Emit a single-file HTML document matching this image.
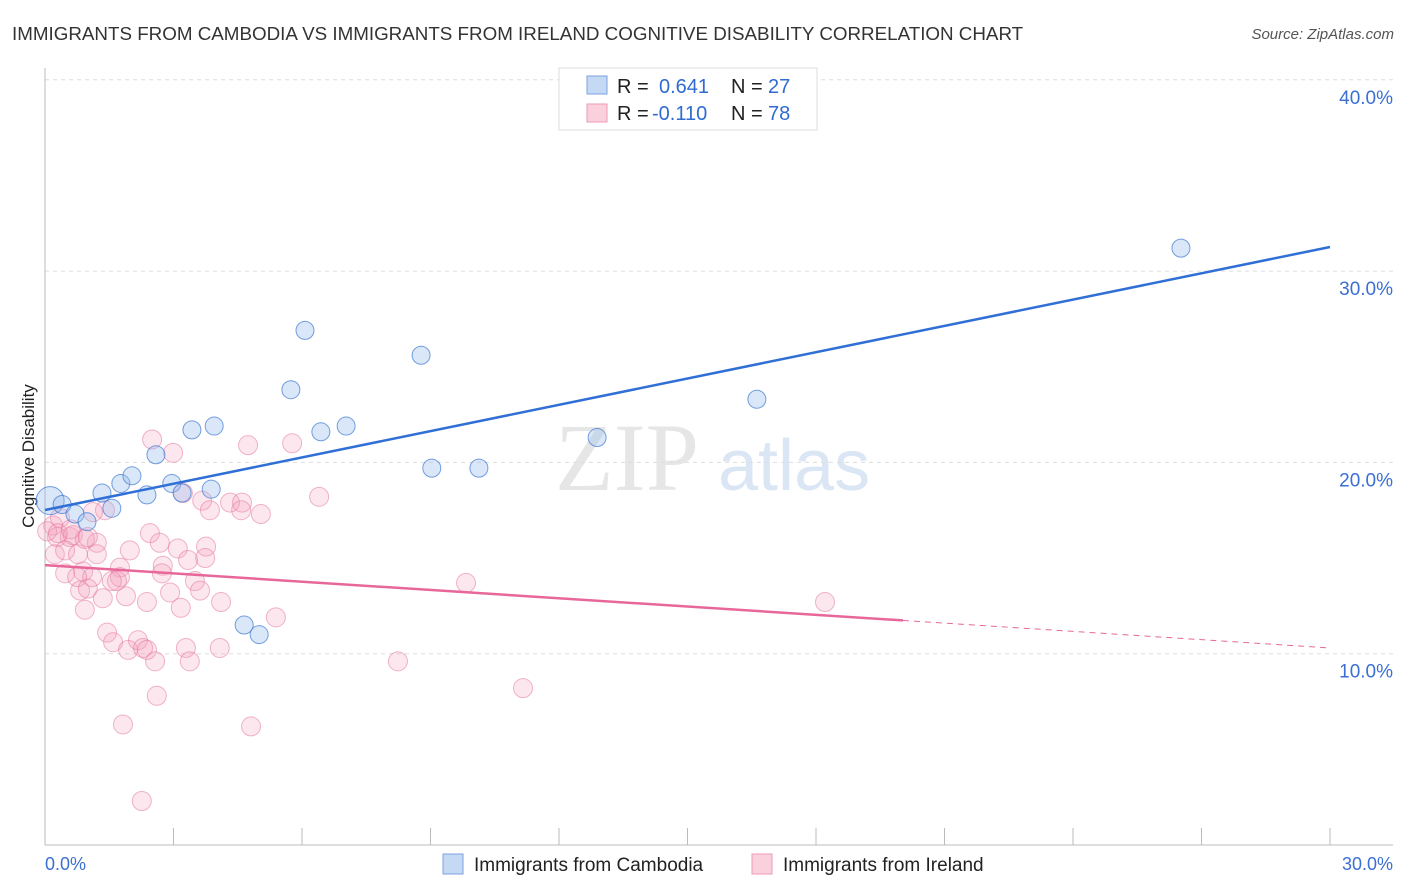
<!DOCTYPE html>
<html><head><meta charset="utf-8"><style>
body{margin:0;background:#fff;font-family:"Liberation Sans",sans-serif}
svg{display:block}
</style></head><body>
<svg id="c" width="1406" height="892" xmlns="http://www.w3.org/2000/svg">
<text x="12" y="40" font-size="18.8" fill="#333">IMMIGRANTS FROM CAMBODIA VS IMMIGRANTS FROM IRELAND COGNITIVE DISABILITY CORRELATION CHART</text>
<text x="1394" y="39" font-size="15" fill="#555" text-anchor="end" font-style="italic">Source: ZipAtlas.com</text>
<text x="555" y="490" font-size="96" fill="#e6e6e6" font-family="Liberation Serif,serif">ZIP</text>
<text x="718" y="490" font-size="72" fill="#dbe6f5">atlas</text>
<g id="grid"></g>
<line x1="45" y1="68" x2="45" y2="845" stroke="#bbb"/>
<line x1="45" y1="845" x2="1393" y2="845" stroke="#bbb"/>
<text transform="translate(34,456) rotate(-90)" font-size="17" fill="#222" text-anchor="middle">Cognitive Disability</text>
<text x="45" y="870" font-size="18" fill="#3b6fd4">0.0%</text>
<text x="1393" y="870" font-size="18" fill="#3b6fd4" text-anchor="end">30.0%</text>
<g id="marks"></g>
<g>
<rect x="559" y="68" width="258" height="62" fill="#fff" stroke="#ddd"/>
<rect x="587" y="76" width="20" height="18" fill="#c5d9f5" stroke="#7aa3e0"/>
<rect x="587" y="104" width="20" height="18" fill="#fbd0dd" stroke="#ee9ab5"/>
<text x="617" y="93" font-size="20" fill="#222">R =</text>
<text x="659" y="93" font-size="20" fill="#2f6bd1">0.641</text>
<text x="731" y="93" font-size="20" fill="#222">N =</text>
<text x="768" y="93" font-size="20" fill="#2f6bd1">27</text>
<text x="617" y="120" font-size="20" fill="#222">R =</text>
<text x="652" y="120" font-size="20" fill="#2f6bd1">-0.110</text>
<text x="731" y="120" font-size="20" fill="#222">N =</text>
<text x="768" y="120" font-size="20" fill="#2f6bd1">78</text>
</g>
<g>
<rect x="443" y="854" width="20" height="20" fill="#c5d9f5" stroke="#7aa3e0"/>
<text x="474" y="871" font-size="19" fill="#222">Immigrants from Cambodia</text>
<rect x="752" y="854" width="20" height="20" fill="#fbd0dd" stroke="#ee9ab5"/>
<text x="783" y="871" font-size="19" fill="#222">Immigrants from Ireland</text>
</g>
</svg>
<script>
const yTicks=[10,20,30,40];
const xTicks=[0,3,6,9,12,15,18,21,24,27,30];
const cambodiaX=[0.12,0.4,0.7,0.98,1.33,1.56,1.77,2.03,2.38,2.59,2.96,3.2,3.43,3.88,3.95,4.65,5.0,5.74,6.07,6.44,7.03,8.78,9.03,10.13,12.89,16.62,26.52];
const cambodiaY=[18.0,17.8,17.3,16.9,18.4,17.6,18.9,19.3,18.3,20.4,18.9,18.4,21.7,18.6,21.9,11.5,11.0,23.8,26.9,21.6,21.9,25.6,19.7,19.7,21.3,23.3,31.2];
const irelandX=[2.5,2.99,4.74,5.77,6.4,3.67,3.85,4.32,4.6,4.58,5.04,3.22,1.4,1.12,0.19,0.28,0.58,0.65,1.21,0.23,0.47,0.77,1.21,1.98,2.45,2.68,3.1,3.34,3.76,3.74,1.75,2.75,2.73,0.47,0.89,1.1,0.75,1.75,1.68,1.56,3.5,3.62,0.82,1.0,1.35,2.92,1.89,0.93,2.38,3.17,4.11,5.39,1.45,1.59,1.94,2.17,2.29,2.38,2.57,3.29,3.38,4.08,2.61,1.82,4.81,2.26,9.83,8.24,11.16,18.21,0.05,0.35,0.93,1.0,0.3,0.6];
const irelandY=[21.2,20.5,20.9,21.0,18.2,18.0,17.5,17.9,17.9,17.5,17.3,18.4,17.5,17.4,16.7,16.1,16.1,16.2,15.8,15.2,15.4,15.2,15.2,15.4,16.3,15.8,15.5,14.9,15.6,15.0,14.5,14.6,14.2,14.2,14.3,14.0,14.0,14.0,13.8,13.8,13.8,13.3,13.3,13.4,12.9,13.2,13.0,12.3,12.7,12.4,12.7,11.9,11.1,10.6,10.2,10.7,10.3,10.2,9.6,10.3,9.6,10.3,7.8,6.3,6.2,2.3,13.7,9.6,8.2,12.7,16.4,17.1,16.0,16.1,16.3,16.5];
const cambodiaTrend=[17.51,31.26];
const irelandTrend=[14.63,10.30];
const irelandSolidEnd=20.03;
const NS='http://www.w3.org/2000/svg';
const sx=v=>45+v/30*1285;
const sy=v=>845-v*19.13;
const grid=document.getElementById('grid'),marks=document.getElementById('marks');
function mk(tag,at,parent){const e=document.createElementNS(NS,tag);for(const k in at)e.setAttribute(k,at[k]);parent.appendChild(e);return e;}
yTicks.forEach(t=>{
 const l=mk('line',{x1:45,x2:1393,y1:sy(t),y2:sy(t),stroke:'#ddd','stroke-dasharray':'4,4'},grid);
 
 
 const tx=mk('text',{x:1393,y:sy(t)+24,'font-size':19,fill:'#3b6fd4','text-anchor':'end'},grid);
 tx.textContent=t.toFixed(1)+'%';
 
 
});
xTicks.forEach(t=>{
 const l=mk('line',{x1:sx(t),x2:sx(t),y1:828,y2:845,stroke:'#bbb'},grid);
 
 
});
irelandX.forEach((x,i)=>{
 const c=mk('circle',{cx:sx(x),cy:sy(irelandY[i]),r:9.5,fill:'rgba(244,160,188,0.25)',stroke:'rgba(230,120,160,0.55)','stroke-width':1},marks);
 
 
});
cambodiaX.forEach((x,i)=>{
 const c=mk('circle',{cx:sx(x),cy:sy(cambodiaY[i]),r:i==0?14:9,fill:'rgba(150,185,235,0.35)',stroke:'rgba(60,120,210,0.7)','stroke-width':1},marks);
 
 
});
const bl=mk('line',{x1:sx(0),y1:sy(cambodiaTrend[0]),x2:sx(30),y2:sy(cambodiaTrend[1]),stroke:'#2f6fd6','stroke-width':2.5},marks);


const pm=irelandTrend[0]+(irelandTrend[1]-irelandTrend[0])*irelandSolidEnd/30;
const pl=mk('line',{x1:sx(0),y1:sy(irelandTrend[0]),x2:sx(irelandSolidEnd),y2:sy(pm),stroke:'#e8679a','stroke-width':2.5},marks);


const pd=mk('line',{x1:sx(irelandSolidEnd),y1:sy(pm),x2:sx(30),y2:sy(irelandTrend[1]),stroke:'#e8679a','stroke-width':1,'stroke-dasharray':'6,5'},marks);


</script>
</body></html>
